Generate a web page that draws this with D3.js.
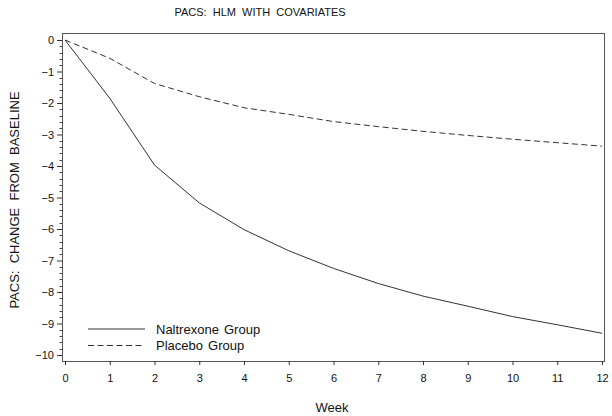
<!DOCTYPE html>
<html><head><meta charset="utf-8">
<script src="https://cdn.jsdelivr.net/npm/d3@7"></script>
<style>body{margin:0;background:#fff}svg{display:block}text{font-family:"Liberation Sans",Arial,sans-serif;fill:#111;white-space:pre}</style>
</head><body><svg id="c" width="612" height="416"></svg>
<script>
const weeks = [0,1,2,3,4,5,6,7,8,9,10,11,12];
const naltrexone = [0,-1.85,-3.97,-5.17,-6.02,-6.69,-7.25,-7.73,-8.13,-8.45,-8.78,-9.04,-9.31];
const placebo = [0,-0.58,-1.38,-1.8,-2.15,-2.36,-2.59,-2.75,-2.9,-3.03,-3.15,-3.26,-3.37];
const xTicks = [0,1,2,3,4,5,6,7,8,9,10,11,12];
const yTicks = [0,-1,-2,-3,-4,-5,-6,-7,-8,-9,-10];
const seriesNames = ["Naltrexone Group","Placebo Group"];

const svg = d3.select("#c");
const x = d3.scaleLinear().domain([0,12]).range([65,602]);
const y = d3.scaleLinear().domain([0,-10]).range([40,355]);
const frame = {l:62,r:604,t:33,b:361};

svg.append("rect").attr("x",frame.l).attr("y",frame.t).attr("width",frame.r-frame.l).attr("height",frame.b-frame.t)
  .attr("fill","none").attr("stroke","#555").attr("stroke-width",1).attr("shape-rendering","crispEdges");

const yAx = svg.append("g").attr("transform",`translate(${frame.l},0)`)
  .call(d3.axisLeft(y).tickValues(yTicks).tickSize(5).tickPadding(3).tickFormat(d=>d===0?"0":"\u2212"+Math.abs(d)));
yAx.select(".domain").remove();
yAx.selectAll("text").style("font-size","11px").attr("fill","#222");
yAx.selectAll("line").attr("stroke","#333");
const minor = d3.range(0,-10.01,-0.2).filter(v=>Math.abs(v-Math.round(v))>0.01);
svg.append("g").selectAll("line").data(minor).join("line")
  .attr("x1",frame.l-2.5).attr("x2",frame.l).attr("y1",d=>Math.round(y(d))+0.5).attr("y2",d=>Math.round(y(d))+0.5)
  .attr("stroke","#444");

const xAx = svg.append("g").attr("transform",`translate(0,${frame.b})`)
  .call(d3.axisBottom(x).tickValues(xTicks).tickSize(4).tickPadding(9).tickFormat(d3.format("d")));
xAx.select(".domain").remove();
xAx.selectAll("text").style("font-size","11px").attr("fill","#222");
xAx.selectAll("line").attr("stroke","#333");

const line = d3.line().x((d,i)=>x(weeks[i])).y(d=>y(d));
svg.append("path").datum(naltrexone).attr("d",line).attr("fill","none").attr("stroke","#333").attr("stroke-width",1);
svg.append("path").datum(placebo).attr("d",line).attr("fill","none").attr("stroke","#333").attr("stroke-width",1).attr("stroke-dasharray","6,3.5");

const leg = svg.append("g");
[0,1].forEach(i=>{
  const yy = 329 + i*16.5;
  leg.append("line").attr("x1",88).attr("x2",145).attr("y1",yy).attr("y2",yy).attr("stroke","#333")
    .attr("stroke-dasharray", i===1?"6,3.5":null);
  leg.append("text").attr("x",156).attr("y",yy).attr("dy","0.36em").style("font-size","13px").style("word-spacing","1.5px").text(seriesNames[i]);
});

svg.append("text").attr("x",260).attr("y",12).attr("dy","0.36em").attr("text-anchor","middle").style("font-size","11px").text("PACS:  HLM  WITH  COVARIATES");
svg.append("text").attr("x",332).attr("y",407).attr("dy","0.36em").attr("text-anchor","middle").style("font-size","13px").text("Week");
svg.append("text").attr("transform","translate(14,200) rotate(-90)").attr("dy","0.36em").attr("text-anchor","middle").style("font-size","13px").text("PACS:  CHANGE  FROM  BASELINE");
</script></body></html>
